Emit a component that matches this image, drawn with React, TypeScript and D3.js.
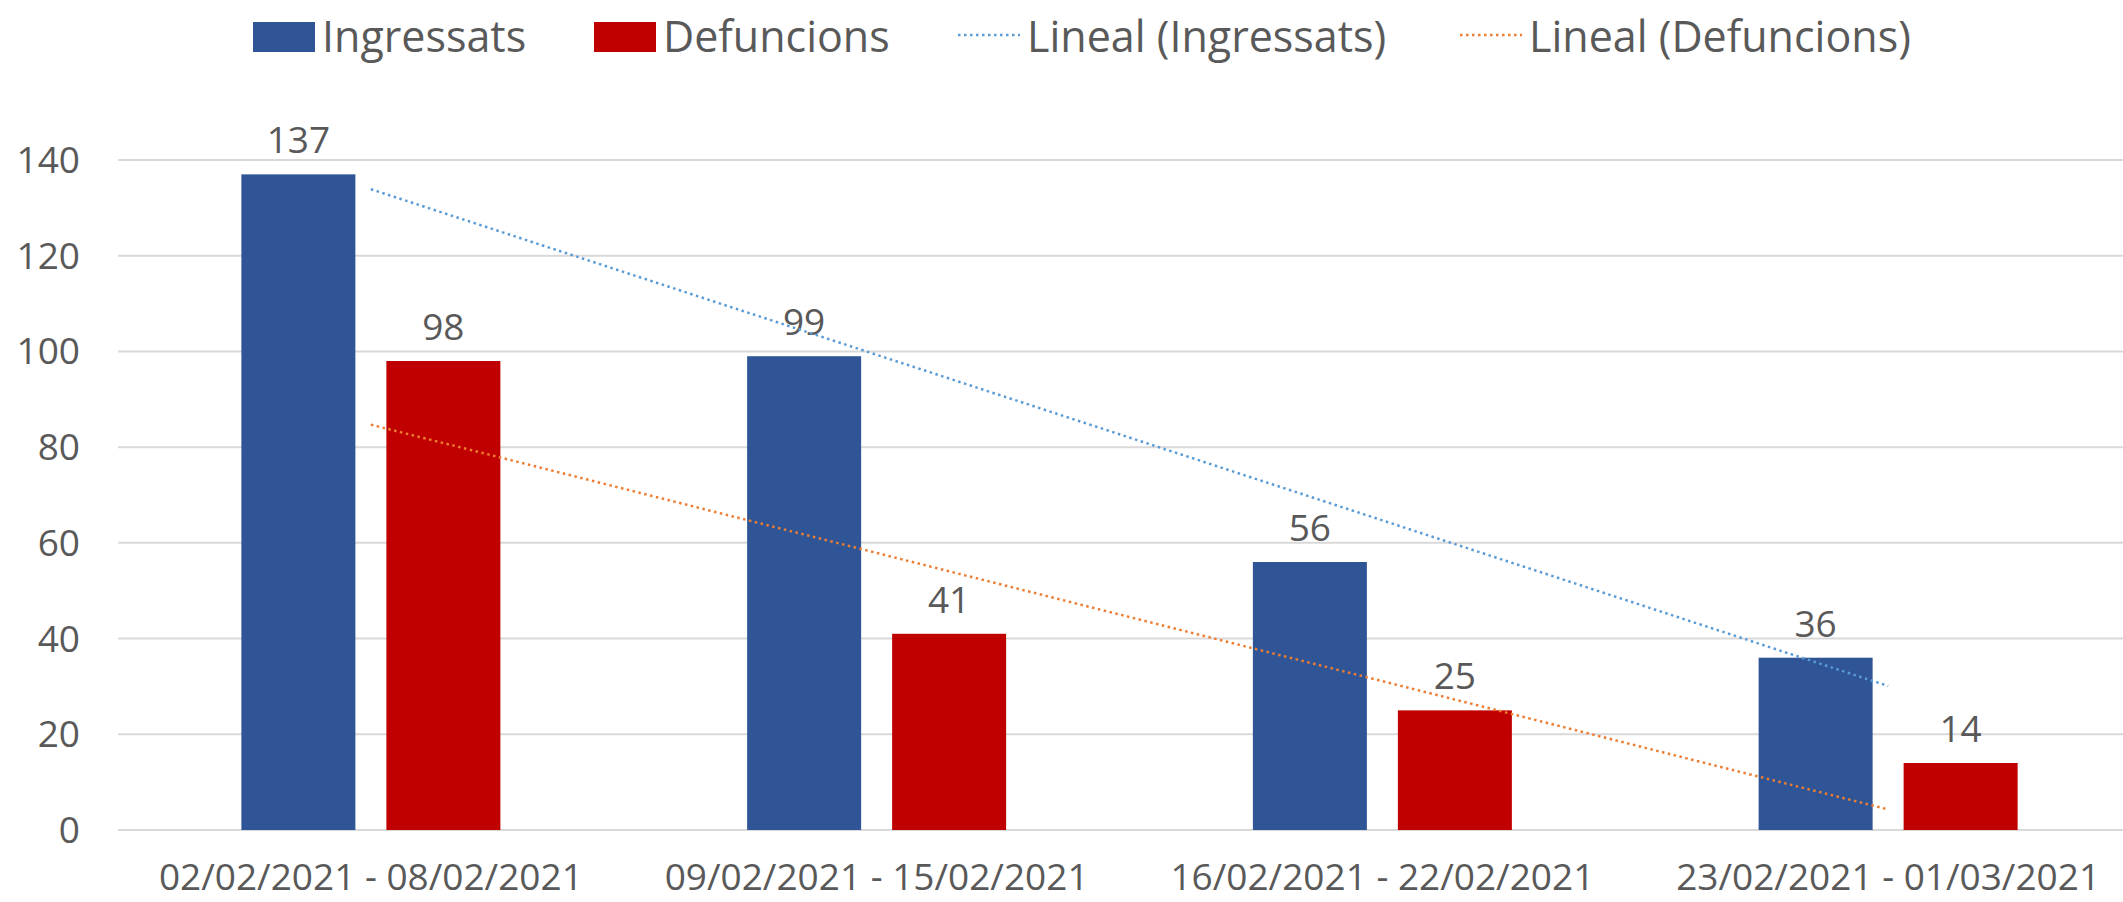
import React from "react";
import * as d3 from "d3";

const categories = [
  "02/02/2021 - 08/02/2021",
  "09/02/2021 - 15/02/2021",
  "16/02/2021 - 22/02/2021",
  "23/02/2021 - 01/03/2021",
];
const ingressats = [137, 99, 56, 36];
const defuncions = [98, 41, 25, 14];
const yTicks = [0, 20, 40, 60, 80, 100, 120, 140];
const seriesNames = ["Ingressats", "Defuncions"];
const trendNames = ["Lineal (Ingressats)", "Lineal (Defuncions)"];

const W = 2123;
const H = 902;
const BLUE = "#2F5597";
const RED = "#C00000";
const TBLUE = "#5B9BD5";
const TORANGE = "#ED7D31";
const TEXT = "#595959";
const GRID = "#D9D9D9";
const FONT = "'Open Sans', sans-serif";

function linReg(vals: number[]) {
  const xs = vals.map((_, i) => i + 1);
  const mx = d3.mean(xs) as number;
  const my = d3.mean(vals) as number;
  let num = 0, den = 0;
  xs.forEach((x, i) => {
    num += (x - mx) * (vals[i] - my);
    den += (x - mx) * (x - mx);
  });
  const b = num / den;
  const a = my - b * mx;
  return (x: number) => a + b * x;
}

export default function App() {
  const x0 = d3.scaleBand<string>().domain(categories).range([118, 2141]).padding(0);
  const groupW = 259;
  const x1 = d3.scaleBand<string>().domain(seriesNames).range([0, groupW]).paddingInner(31 / 145);
  const y = d3.scaleLinear().domain([0, 140]).range([830, 160]);
  const center = (c: string) => (x0(c) as number) + x0.bandwidth() / 2;

  const series = [
    { name: seriesNames[0], values: ingressats, color: BLUE, trend: TBLUE },
    { name: seriesNames[1], values: defuncions, color: RED, trend: TORANGE },
  ];

  const line = d3
    .line<[number, number]>()
    .x((d) => d[0])
    .y((d) => d[1]);

  const legendItems = [
    { kind: "rect", color: BLUE, label: seriesNames[0], x: 253 },
    { kind: "rect", color: RED, label: seriesNames[1], x: 594 },
    { kind: "line", color: TBLUE, label: trendNames[0], x: 958 },
    { kind: "line", color: TORANGE, label: trendNames[1], x: 1460 },
  ];

  return (
    <svg
      width={W}
      height={H}
      style={{ position: "absolute", left: 0, top: 0, background: "#fff" }}
      fontFamily={FONT}
    >
      {/* gridlines */}
      {yTicks.map((t) => (
        <line key={t} x1={118} x2={W} y1={y(t)} y2={y(t)} stroke={GRID} strokeWidth={2} />
      ))}
      {/* y labels */}
      {yTicks.map((t) => (
        <text key={"yl" + t} x={80} y={y(t) + 13} textAnchor="end" fontSize={37} fill={TEXT}>
          {t}
        </text>
      ))}
      {/* bars */}
      {series.map((s) =>
        categories.map((c, i) => {
          const bx = center(c) - groupW / 2 + (x1(s.name) as number);
          return (
            <g key={s.name + c}>
              <rect
                x={bx}
                y={y(s.values[i])}
                width={x1.bandwidth()}
                height={y(0) - y(s.values[i])}
                fill={s.color}
              />
              <text
                x={bx + x1.bandwidth() / 2}
                y={y(s.values[i]) - 21}
                textAnchor="middle"
                fontSize={37}
                fill={TEXT}
              >
                {s.values[i]}
              </text>
            </g>
          );
        })
      )}
      {/* trend lines */}
      {series.map((s) => {
        const f = linReg(s.values);
        const pts: [number, number][] = [
          [center(categories[0]), y(f(1))],
          [center(categories[categories.length - 1]), y(f(categories.length))],
        ];
        return (
          <path
            key={"t" + s.name}
            d={line(pts) as string}
            fill="none"
            stroke={s.trend}
            strokeWidth={2.5}
            strokeDasharray="2.5 3.5"
          />
        );
      })}
      {/* x labels */}
      {categories.map((c) => (
        <text key={"xl" + c} x={center(c)} y={890} textAnchor="middle" fontSize={37} fill={TEXT}>
          {c}
        </text>
      ))}
      {/* legend */}
      {legendItems.map((it) => (
        <g key={"lg" + it.label}>
          {it.kind === "rect" ? (
            <rect x={it.x} y={22} width={62} height={30} fill={it.color} />
          ) : (
            <line
              x1={it.x}
              x2={it.x + 62}
              y1={35}
              y2={35}
              stroke={it.color}
              strokeWidth={2.5}
              strokeDasharray="2.5 3.5"
            />
          )}
          <text x={it.x + 69} y={52} fontSize={43} fill={TEXT}>
            {it.label}
          </text>
        </g>
      ))}
    </svg>
  );
}
